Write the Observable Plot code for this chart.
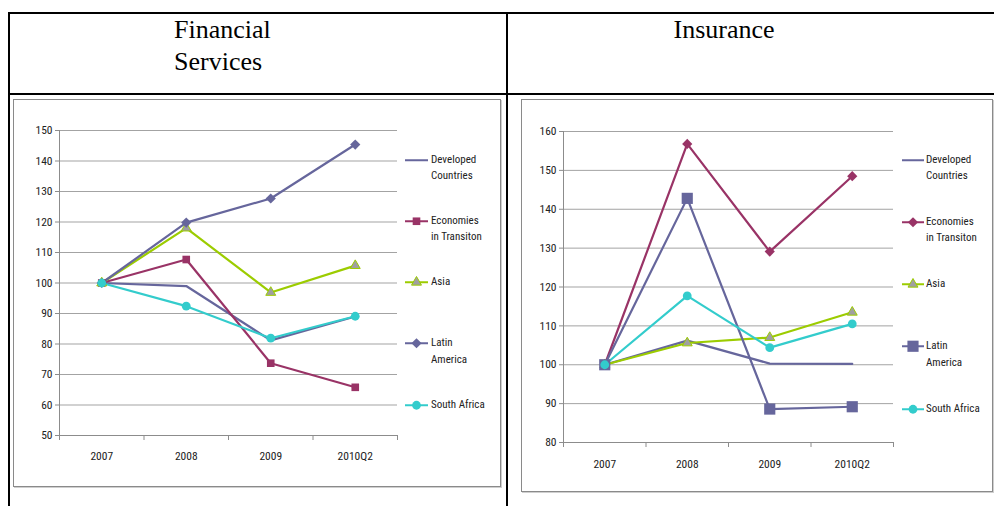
<!DOCTYPE html>
<html><head><meta charset="utf-8">
<script src="https://cdn.jsdelivr.net/npm/d3@7"></script>
<script src="https://cdn.jsdelivr.net/npm/@observablehq/plot@0.6"></script>
<style>
body{margin:0;background:#fff;width:994px;height:506px;overflow:hidden;position:relative;font-family:"Liberation Sans Narrow","Arial Narrow","Roboto Condensed",sans-serif;}
.rule{position:absolute;background:#000;}
.head{position:absolute;font-family:"Liberation Serif","Times New Roman",serif;font-size:26px;line-height:32px;color:#000;}
.frame{position:absolute;border:1px solid #8a8a8a;box-shadow:1px 1px 0 #cfcfcf;box-sizing:border-box;background:#fff;}
.chart{position:absolute;}
.leg{position:absolute;font-size:11px;line-height:16.5px;color:#222;white-space:nowrap;}
.leg svg{position:absolute;top:0;}
</style></head>
<body>
<div class="rule" style="left:8px;top:12px;width:986px;height:2px"></div>
<div class="rule" style="left:8px;top:12px;width:2px;height:494px"></div>
<div class="rule" style="left:8px;top:93px;width:986px;height:2px"></div>
<div class="rule" style="left:506px;top:12px;width:2px;height:494px"></div>
<div class="head" style="left:174px;top:14px">Financial<br>Services</div>
<div class="head" style="left:624px;top:14px;width:200px;text-align:center">Insurance</div>
<div class="frame" style="left:13px;top:99px;width:488px;height:388px"></div>
<div class="frame" style="left:521px;top:99px;width:472px;height:393px"></div>
<div id="c1" class="chart" style="left:14px;top:100px"></div>
<div id="c2" class="chart" style="left:522px;top:100px"></div>
<div id="l1"></div>
<div id="l2"></div>
<script>
const categories = ["2007", "2008", "2009", "2010Q2"];
const seriesNames = ["Developed Countries", "Economies in Transiton", "Asia", "Latin America", "South Africa"];
const legendLabels = [["Developed", "Countries"], ["Economies", "in Transiton"], ["Asia"], ["Latin", "America"], ["South Africa"]];

// Financial Services
const finDeveloped   = [100, 99.0, 81.2, 89.0];
const finEconomies   = [100, 107.7, 73.7, 65.8];
const finAsia        = [100, 118.0, 96.9, 105.7];
const finLatin       = [100, 119.8, 127.7, 145.4];
const finSouthAfrica = [100, 92.4, 81.9, 89.1];
const finTicks = [50, 60, 70, 80, 90, 100, 110, 120, 130, 140, 150];

// Insurance
const insDeveloped   = [100, 106.2, 100.3, 100.2];
const insEconomies   = [100, 156.8, 129.1, 148.5];
const insAsia        = [100, 105.6, 107.0, 113.5];
const insLatin       = [100, 142.8, 88.6, 89.2];
const insSouthAfrica = [100, 117.7, 104.4, 110.5];
const insTicks = [80, 90, 100, 110, 120, 130, 140, 150, 160];

const PURPLE = "#66669c", MAROON = "#993366", GREEN = "#9ccc00", CYAN = "#33cccc", GREY = "#8c8c8c";
const d3sym = {square: d3.symbolSquare, diamond2: d3.symbolDiamond2, triangle: d3.symbolTriangle, circle: d3.symbolCircle};

function buildChart(el, legEl, values, ticks, styles, dims, legDims) {
  const rows = [];
  values.forEach((vals, si) => vals.forEach((v, i) => rows.push({series: seriesNames[si], si, x: i + 0.5, y: v})));
  const marks = [
    Plot.ruleY(ticks.slice(1), {stroke: "#a3a3a3", strokeWidth: 1}),
    Plot.ruleY([ticks[0]], {stroke: GREY}),
    Plot.ruleX([0], {stroke: GREY}),
    Plot.axisY({ticks, tickSize: 4, tickPadding: 3, stroke: GREY, label: null, fontSize: 11.5}),
    Plot.axisX({ticks: [0, 1, 2, 3, 4], tickSize: 5, tickFormat: () => "", stroke: GREY, label: null}),
    Plot.axisX({ticks: categories.map((c, i) => i + 0.5), tickSize: 0, tickPadding: dims.labelPad, tickFormat: d => categories[Math.floor(d)], label: null, fontSize: 11.5})
  ];
  styles.forEach((st, si) => {
    const data = rows.filter(r => r.si === si);
    marks.push(Plot.line(data, {x: "x", y: "y", stroke: st.color, strokeWidth: 2.2}));
  });
  styles.forEach((st, si) => {
    const data = rows.filter(r => r.si === si);
    if (st.symbol) marks.push(Plot.dot(data, {x: "x", y: "y", symbol: () => st.symbol, r: st.r, fill: st.fill || st.color, stroke: st.stroke || "none", strokeWidth: 1}));
  });
  const chart = Plot.plot({
    width: dims.width, height: dims.height,
    marginLeft: dims.ml, marginRight: dims.mr, marginTop: dims.mt, marginBottom: dims.mb,
    style: {fontFamily: '"Liberation Sans Narrow","Arial Narrow","Roboto Condensed",sans-serif', fontSize: "11px", color: "#222", background: "transparent", overflow: "visible"},
    x: {type: "linear", domain: [0, 4], axis: null, label: null},
    y: {domain: [ticks[0], ticks[ticks.length - 1]], axis: null, label: null},
    marks
  });
  el.appendChild(chart);
  // legend
  styles.forEach((st, si) => {
    const div = document.createElement("div");
    div.className = "leg";
    div.style.left = legDims.textLeft + "px";
    div.style.top = (legDims.first + si * legDims.step - 8.25) + "px";
    div.innerHTML = legendLabels[si].join("<br>");
    const w = legDims.swatchW;
    const svg = d3.create("svg").attr("width", w).attr("height", 17)
      .style("left", (legDims.swatchLeft - legDims.textLeft) + "px").style("top", "0px").style("overflow", "visible");
    svg.append("line").attr("x1", 0).attr("x2", w).attr("y1", 8.25).attr("y2", 8.25).attr("stroke", st.color).attr("stroke-width", 2);
    if (st.symbol) {
      const size = st.r * st.r * Math.PI;
      if (st.symbol === "circle") {
        svg.append("circle").attr("cx", w / 2).attr("cy", 8.25).attr("r", st.r).attr("fill", st.fill || st.color);
      } else {
        svg.append("path").attr("d", d3.symbol(d3sym[st.symbol], size)()).attr("transform", `translate(${w / 2},8.25)`)
          .attr("fill", st.fill || st.color).attr("stroke", st.stroke || "none");
      }
    }
    div.appendChild(svg.node());
    legEl.appendChild(div);
  });
}

const finStyles = [
  {color: PURPLE},
  {color: MAROON, symbol: "square", r: 4.3},
  {color: GREEN, symbol: "triangle", r: 3.7, fill: "#a0a0a0", stroke: GREEN},
  {color: PURPLE, symbol: "diamond2", r: 4.6},
  {color: CYAN, symbol: "circle", r: 4.4}
];
const insStyles = [
  {color: PURPLE},
  {color: MAROON, symbol: "diamond2", r: 4.6},
  {color: GREEN, symbol: "triangle", r: 3.7, fill: "#a0a0a0", stroke: GREEN},
  {color: PURPLE, symbol: "square", r: 6.3},
  {color: CYAN, symbol: "circle", r: 4.4}
];

buildChart(document.getElementById("c1"), document.getElementById("l1"),
  [finDeveloped, finEconomies, finAsia, finLatin, finSouthAfrica], finTicks, finStyles,
  {width: 485, height: 385, ml: 45, mr: 102, mt: 30, mb: 50, labelPad: 16},
  {swatchLeft: 405, swatchW: 23, textLeft: 431, first: 160, step: 61.2});

buildChart(document.getElementById("c2"), document.getElementById("l2"),
  [insDeveloped, insEconomies, insAsia, insLatin, insSouthAfrica], insTicks, insStyles,
  {width: 470, height: 391, ml: 41, mr: 99, mt: 31, mb: 49, labelPad: 17},
  {swatchLeft: 902, swatchW: 22, textLeft: 926, first: 160, step: 62.2});
</script>
</body></html>
